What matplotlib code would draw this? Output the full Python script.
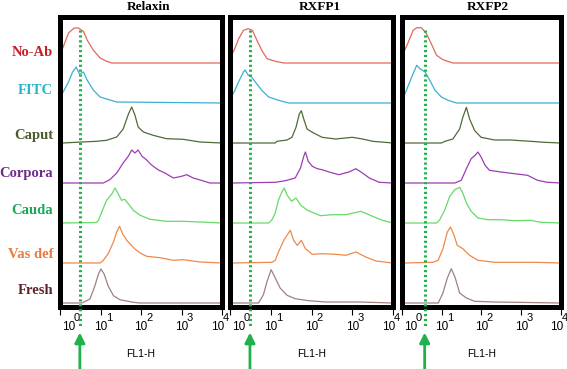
import numpy as np
import matplotlib
matplotlib.use('Agg')
import matplotlib.pyplot as plt

# ---------------- data ----------------
panels = ['Relaxin', 'RXFP1', 'RXFP2']
samples = ['No-Ab', 'FITC', 'Caput', 'Corpora', 'Cauda', 'Vas def', 'Fresh']
label_colors = ['#c41e2a', '#2ab4cc', '#4b5a2c', '#6f2d8a', '#17a85a', '#e87a3c', '#5e2226']
line_colors = ['#e06a5a', '#3ab0d0', '#4e6b3a', '#9b3fb0', '#66d966', '#f0884a', '#a08080']
decades = [0, 1, 2, 3, 4]
gate_log = [0.49, 0.49, 0.57]
x_title = 'FL1-H'

# log10(FL1-H) positions and event counts, panel "Relaxin"
rlx_noab_x = [0.05, 0.21, 0.35, 0.45, 0.58, 0.67, 0.82, 0.99, 1.15, 1.28, 4.0]
rlx_noab_y = [13, 30, 35, 35, 31.6, 23, 13, 5, 1.7, 0, 0]
rlx_fitc_x = [0.05, 0.21, 0.31, 0.40, 0.48, 0.58, 0.67, 0.82, 0.99, 1.15, 1.40, 4.0]
rlx_fitc_y = [9, 21, 31, 36, 29, 31, 23, 13, 6, 4, 1, 0]
rlx_caput_x = [0.05, 0.90, 1.15, 1.40, 1.56, 1.69, 1.77, 1.85, 1.93, 2.06, 2.30, 2.63, 3.04, 3.46, 4.0]
rlx_caput_y = [0, 1.7, 2.7, 6, 14, 29, 36, 28, 16, 11, 7.7, 4.3, 3.7, 1, 0]
rlx_corp_x = [0.05, 1.07, 1.23, 1.40, 1.56, 1.69, 1.77, 1.85, 1.93, 2.02, 2.14, 2.26, 2.43, 2.59, 2.80, 3.00, 3.13, 3.29, 3.46, 3.70, 4.0]
rlx_corp_y = [0, 0, 3.3, 10, 20, 27, 33, 30, 33, 27, 23, 18, 13, 10, 5, 6.7, 8.3, 5, 3, 0, 0]
rlx_cauda_x = [0.05, 0.90, 0.95, 1.03, 1.15, 1.28, 1.36, 1.44, 1.52, 1.60, 1.69, 1.81, 1.98, 2.22, 2.63, 3.04, 3.46, 4.0]
rlx_cauda_y = [0, 0.5, 2.7, 11, 22.7, 29, 35, 29, 22.7, 23.7, 19, 12.7, 7.7, 3.7, 1.7, 1.7, 1, 0]
rlx_vas_x = [0.05, 0.99, 1.07, 1.19, 1.32, 1.40, 1.47, 1.55, 1.65, 1.73, 1.85, 1.98, 2.14, 2.47, 2.80, 3.04, 3.46, 4.0]
rlx_vas_y = [0, 0, 2.7, 9.3, 21, 31, 36.7, 29, 22.7, 19, 14, 10, 6.7, 5.3, 2.7, 3.3, 1, 0]
rlx_fresh_x = [0.05, 0.54, 0.74, 0.86, 0.95, 1.01, 1.09, 1.19, 1.32, 1.48, 1.81, 1.98, 4.0]
rlx_fresh_y = [0, 0, 4, 17, 29, 34, 29, 17, 7.3, 3.3, 0.7, 0, 0]

# panel "RXFP1"
rx1_noab_x = [0.05, 0.10, 0.21, 0.33, 0.45, 0.55, 0.66, 0.78, 0.91, 1.11, 1.32, 4.0]
rx1_noab_y = [9, 12.7, 24, 32.7, 34.3, 32.7, 22.7, 12.7, 4.3, 1.7, 0, 0]
rx1_fitc_x = [0.05, 0.10, 0.21, 0.33, 0.37, 0.45, 0.53, 0.66, 0.78, 0.95, 1.19, 1.44, 4.0]
rx1_fitc_y = [8, 11, 21, 31, 33, 27.7, 26, 19, 12.7, 6, 2.7, 0, 0]
rx1_caput_x = [0.05, 1.11, 1.15, 1.40, 1.52, 1.62, 1.70, 1.75, 1.81, 1.89, 2.02, 2.26, 2.59, 3.00, 3.25, 3.50, 4.0]
rx1_caput_y = [0, 0, 1.7, 3, 5.7, 15.7, 29, 32.3, 24, 14, 10.7, 5.7, 4, 5.7, 4, 1.7, 0]
rx1_corp_x = [0.05, 1.11, 1.36, 1.60, 1.73, 1.81, 1.85, 1.92, 2.02, 2.14, 2.26, 2.43, 2.67, 2.92, 3.09, 3.25, 3.42, 3.66, 4.0]
rx1_corp_y = [0, 0.7, 2.3, 5, 15, 26.7, 31, 21.7, 16.7, 14.3, 13.3, 11, 8.3, 11, 14.3, 10, 5, 0.7, 0]
rx1_cauda_x = [0.05, 0.95, 1.03, 1.11, 1.19, 1.28, 1.33, 1.40, 1.51, 1.62, 1.73, 1.89, 2.06, 2.22, 2.51, 2.84, 3.21, 3.50, 3.74, 4.0]
rx1_cauda_y = [0, 0, 3.3, 10, 23, 31.7, 35, 28, 21.7, 25, 18, 13, 10, 7.3, 8.3, 8.3, 11.7, 6.7, 2.7, 0]
rx1_vas_x = [0.05, 1.03, 1.11, 1.19, 1.32, 1.40, 1.48, 1.56, 1.65, 1.75, 1.85, 2.02, 2.26, 2.59, 2.84, 3.09, 3.33, 3.58, 4.0]
rx1_vas_y = [0, 0.7, 2.7, 11, 22.7, 27.7, 32.7, 22.7, 17.7, 22.7, 14.3, 8.7, 9.3, 8.7, 7.7, 11, 6, 2, 0]
rx1_fresh_x = [0.05, 0.70, 0.82, 0.91, 1.01, 1.11, 1.23, 1.40, 1.60, 1.93, 2.35, 3.17, 4.0]
rx1_fresh_y = [0, 0, 8.3, 21.7, 33.3, 25, 15, 7.7, 4.3, 2.3, 1, 1, 0]

# panel "RXFP2"
rx2_noab_x = [0.03, 0.16, 0.28, 0.37, 0.49, 0.62, 0.74, 0.87, 1.03, 1.28, 4.0]
rx2_noab_y = [9.3, 21, 32.7, 35.3, 35.3, 29, 19, 7.7, 3.3, 0, 0]
rx2_fitc_x = [0.05, 0.16, 0.28, 0.37, 0.45, 0.58, 0.70, 0.83, 0.99, 1.16, 1.37, 4.0]
rx2_fitc_y = [6.7, 17.7, 29.3, 37.7, 34.3, 31, 22.7, 12.7, 6, 2.7, 0, 0]
rx2_caput_x = [0.05, 0.99, 1.08, 1.28, 1.45, 1.53, 1.62, 1.70, 1.83, 1.99, 2.33, 2.74, 2.99, 3.24, 3.58, 4.0]
rx2_caput_y = [0, 0, 1.7, 4, 14, 25.7, 35.7, 24, 12.3, 5.7, 3, 3, 2.3, 1.7, 0.7, 0]
rx2_corp_x = [0.05, 1.33, 1.49, 1.62, 1.74, 1.84, 1.91, 1.99, 2.09, 2.20, 2.49, 2.83, 3.16, 3.41, 3.66, 4.0]
rx2_corp_y = [0, 0, 2.7, 14.3, 24.3, 27.7, 31, 26, 17.7, 12.7, 11, 9.3, 7.7, 2.7, 0.7, 0]
rx2_cauda_x = [0.05, 0.87, 0.95, 1.08, 1.20, 1.33, 1.45, 1.53, 1.62, 1.74, 1.91, 2.16, 2.49, 2.83, 3.24, 3.49, 4.0]
rx2_cauda_y = [0, 0, 3.3, 13.3, 26.7, 33.3, 35.7, 30, 20, 11.7, 5, 3.3, 3.3, 2.3, 2.7, 0.7, 0]
rx2_vas_x = [0.05, 0.78, 0.91, 1.03, 1.14, 1.22, 1.31, 1.39, 1.53, 1.70, 1.91, 2.33, 3.33, 4.0]
rx2_vas_y = [0, 0.7, 2.7, 14.3, 31, 36, 27.7, 17.7, 14.3, 7.7, 2.7, 0.7, 0.7, 0]
rx2_fresh_x = [0.05, 0.91, 1.03, 1.14, 1.24, 1.34, 1.45, 1.62, 1.83, 2.33, 4.0]
rx2_fresh_y = [0, 0, 10, 25, 34.3, 25, 10, 5, 1.7, 1, 0]

curves = [
    [(rlx_noab_x, rlx_noab_y), (rlx_fitc_x, rlx_fitc_y), (rlx_caput_x, rlx_caput_y),
     (rlx_corp_x, rlx_corp_y), (rlx_cauda_x, rlx_cauda_y), (rlx_vas_x, rlx_vas_y),
     (rlx_fresh_x, rlx_fresh_y)],
    [(rx1_noab_x, rx1_noab_y), (rx1_fitc_x, rx1_fitc_y), (rx1_caput_x, rx1_caput_y),
     (rx1_corp_x, rx1_corp_y), (rx1_cauda_x, rx1_cauda_y), (rx1_vas_x, rx1_vas_y),
     (rx1_fresh_x, rx1_fresh_y)],
    [(rx2_noab_x, rx2_noab_y), (rx2_fitc_x, rx2_fitc_y), (rx2_caput_x, rx2_caput_y),
     (rx2_corp_x, rx2_corp_y), (rx2_cauda_x, rx2_cauda_y), (rx2_vas_x, rx2_vas_y),
     (rx2_fresh_x, rx2_fresh_y)],
]

# ---------------- layout ----------------
W, H = 567, 369
fig = plt.figure(figsize=(W / 100, H / 100), dpi=100)
frames_px = [(60, 222), (230, 393), (402, 561)]
top_px, bot_px = 17, 307
title_x_px = [148, 320, 488]
row_label_y_px = [52, 90, 135, 173, 210, 255, 290]
gate_color = '#1fb24a'
serif = ['Liberation Serif', 'DejaVu Serif']
narrow = ['Liberation Sans Narrow', 'Liberation Sans', 'DejaVu Sans']

for p, (x0, x1) in enumerate(frames_px):
    ax = fig.add_axes([x0 / W, (H - bot_px) / H, (x1 - x0) / W, (bot_px - top_px) / H])
    ax.set_xscale('log')
    ax.set_xlim(10 ** decades[0], 10 ** decades[-1])
    ax.set_ylim(0, bot_px - top_px)
    for i in range(len(samples)):
        xs, ys = curves[p][i]
        base = 4 + 40 * (len(samples) - 1 - i)
        ax.plot(np.power(10.0, xs), base + np.asarray(ys), color=line_colors[i], lw=0.9,
                solid_joinstyle='round')
    for s in ax.spines.values():
        s.set_linewidth(3.6)
        s.set_color('black')
        s.set_capstyle('projecting')
    ax.set_yticks([])
    ax.set_xticks([10 ** d for d in decades])
    ax.xaxis.set_minor_locator(matplotlib.ticker.NullLocator())
    ax.set_xticklabels([])
    ax.tick_params(axis='x', direction='out', length=5.5, width=0.8, color='black')
    tr = ax.get_xaxis_transform()
    for d in decades:
        dx = 0
        if d == decades[0]:
            dx = 6
        elif d == decades[-1]:
            dx = -3
        ax.annotate('10', xy=(10 ** d, 0), xycoords=tr, xytext=(dx, -14.6),
                    textcoords='offset points', ha='center', va='center', fontsize=8.5,
                    family=narrow, annotation_clip=False)
        ax.annotate(str(d), xy=(10 ** d, 0), xycoords=tr, xytext=(dx + 6.0, -8.0),
                    textcoords='offset points', ha='center', va='center', fontsize=8,
                    family=narrow, annotation_clip=False)
    ax.annotate(x_title, xy=(0.5, 0), xycoords='axes fraction', xytext=(0, -33.8),
                textcoords='offset points', ha='center', va='center', fontsize=7.5,
                family=narrow, annotation_clip=False)
    g = 10 ** gate_log[p]
    ax.plot([g, g], [0.955, -0.072], transform=tr, color=gate_color, lw=2.2,
            linestyle=(0, (0.7, 0.9)), clip_on=False, zorder=5)
    ax.annotate('', xy=(g, -0.088), xycoords=tr, xytext=(g, -0.22), textcoords=tr,
                arrowprops=dict(arrowstyle='-|>,head_length=0.6,head_width=0.3',
                                color=gate_color, lw=2.0, shrinkA=0, shrinkB=0),
                annotation_clip=False)
    fig.text(title_x_px[p] / W, 1 - 6.5 / H, panels[p], ha='center', va='center',
             fontsize=9.5, fontweight='bold', family=serif)

for i, s in enumerate(samples):
    fig.text(53 / W, 1 - row_label_y_px[i] / H, s, ha='right', va='center', fontsize=10.5,
             fontweight='bold', family=serif, color=label_colors[i])

fig.savefig('out.png', dpi=100)
